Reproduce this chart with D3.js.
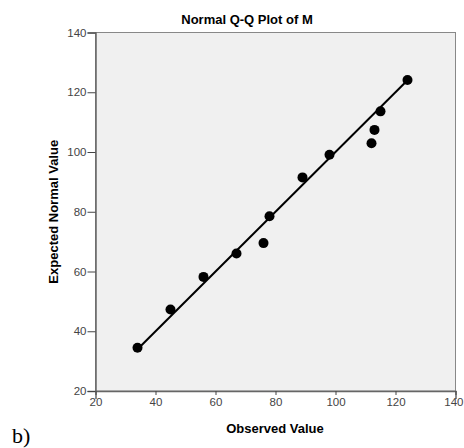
<!DOCTYPE html>
<html><head><meta charset="utf-8">
<script src="https://cdn.jsdelivr.net/npm/d3@7"></script>
<style>body{margin:0;background:#fff}svg{display:block}</style>
</head><body>
<script>
const observed = [34, 45, 56, 67, 76, 78, 89, 98, 112, 113, 115, 124];
const expected = [34.5, 47.3, 58.2, 66, 69.5, 78.5, 91.5, 99.1, 102.9, 107.4, 113.6, 124.1];
const lineX = [34, 124];
const lineY = [34, 124];
const xTicks = [20, 40, 60, 80, 100, 120, 140];
const yTicks = [20, 40, 60, 80, 100, 120, 140];

const W = 464, H = 448;
const svg = d3.select("body").append("svg").attr("width", W).attr("height", H);
const L = 95.5, R = 455.5, T = 32.5, B = 391;
const x = d3.scaleLinear().domain([20, 140]).range([L, R]);
const y = d3.scaleLinear().domain([20, 140]).range([B, T]);

svg.append("rect").attr("x", L).attr("y", T).attr("width", R - L).attr("height", B - T)
  .attr("fill", "#f0f0f0").attr("stroke", "#888").attr("stroke-width", 1);

const font = "'Liberation Sans', Arial, sans-serif";
const ya = svg.append("g").attr("transform", `translate(${L},0)`)
  .call(d3.axisLeft(y).tickValues(yTicks).tickSize(8).tickPadding(1));
const xa = svg.append("g").attr("transform", `translate(0,${B})`)
  .call(d3.axisBottom(x).tickValues(xTicks).tickSize(8).tickPadding(-1));
[ya, xa].forEach(g => {
  g.select(".domain").attr("stroke", "#666").attr("stroke-width", 1.5);
  g.selectAll(".tick line").attr("stroke", "#444");
  g.selectAll("text").attr("font-family", font).attr("font-size", 11.5).attr("fill", "#444");
});
xa.selectAll(".tick line").attr("y2", -4).attr("transform", "translate(0,4)");
xa.selectAll("text").attr("dy", "0.71em");
xa.selectAll(".tick").filter(d => d === 140).select("text")
  .attr("text-anchor", "end").attr("x", 463 - x(140));

svg.append("line").attr("x1", x(lineX[0])).attr("y1", y(lineY[0]))
  .attr("x2", x(lineX[1])).attr("y2", y(lineY[1]))
  .attr("stroke", "#000").attr("stroke-width", 2);

svg.selectAll("circle.pt").data(observed).enter().append("circle").attr("class", "pt")
  .attr("cx", d => x(d)).attr("cy", (d, i) => y(expected[i])).attr("r", 5).attr("fill", "#000");

svg.append("text").attr("x", 247).attr("y", 24).attr("text-anchor", "middle")
  .attr("font-family", font).attr("font-weight", "bold").attr("font-size", 13).text("Normal Q-Q Plot of M");
svg.append("text").attr("x", 275).attr("y", 433).attr("text-anchor", "middle")
  .attr("font-family", font).attr("font-weight", "bold").attr("font-size", 13).text("Observed Value");
svg.append("text").attr("transform", `translate(58,${(T + B) / 2}) rotate(-90)`).attr("text-anchor", "middle")
  .attr("font-family", font).attr("font-weight", "bold").attr("font-size", 13).text("Expected Normal Value");
svg.append("text").attr("x", 12).attr("y", 443)
  .attr("font-family", "'Liberation Serif', 'Times New Roman', serif").attr("font-size", 22).text("b)");
</script>
</body></html>
